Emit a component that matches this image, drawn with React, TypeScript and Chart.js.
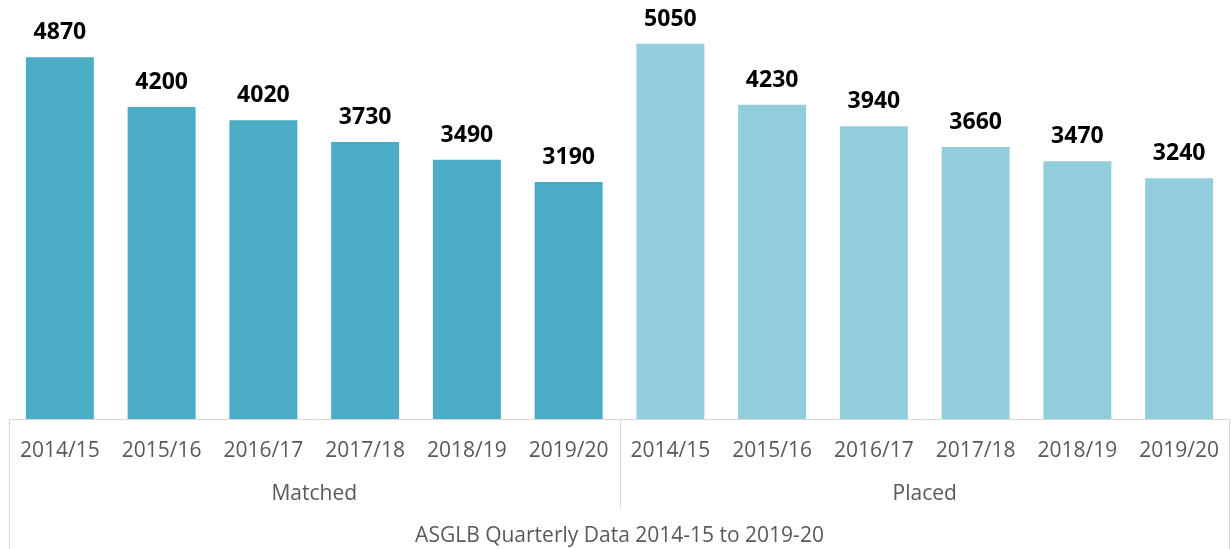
import React, { useEffect, useRef } from "react";
import { Chart, registerables } from "chart.js";

Chart.register(...registerables);

const years = ["2014/15", "2015/16", "2016/17", "2017/18", "2018/19", "2019/20"];
const groups = ["Matched", "Placed"];
const matched = [4870, 4200, 4020, 3730, 3490, 3190];
const placed = [5050, 4230, 3940, 3660, 3470, 3240];
const axisTitle = "ASGLB Quarterly Data 2014-15 to 2019-20";

const categories = [...years, ...years];
const empty = years.map(() => null);

const FONT = "'Open Sans', 'Liberation Sans', sans-serif";
const LINE = "#D9D9D9";

const overlayPlugin = {
  id: "overlay",
  afterDraw(chart: any) {
    const ctx = chart.ctx;
    const x = chart.scales.x;
    const area = chart.chartArea;
    const H = chart.height;
    ctx.save();
    // axis line and group separators
    ctx.strokeStyle = LINE;
    ctx.lineWidth = 1;
    ctx.beginPath();
    const yAxis = Math.round(area.bottom) + 0.5;
    ctx.moveTo(area.left, yAxis);
    ctx.lineTo(area.right, yAxis);
    const leftX = Math.round(area.left) + 0.5;
    const rightX = Math.round(area.right) - 0.5;
    ctx.moveTo(leftX, yAxis);
    ctx.lineTo(leftX, H);
    ctx.moveTo(rightX, yAxis);
    ctx.lineTo(rightX, H);
    const midX = Math.round((x.getPixelForValue(5) + x.getPixelForValue(6)) / 2) + 0.5;
    ctx.moveTo(midX, yAxis);
    ctx.lineTo(midX, yAxis + 88);
    ctx.stroke();

    // group labels
    ctx.fillStyle = "#595959";
    ctx.font = `21px ${FONT}`;
    ctx.textAlign = "center";
    ctx.textBaseline = "alphabetic";
    groups.forEach((g, gi) => {
      const a = x.getPixelForValue(gi * years.length);
      const b = x.getPixelForValue(gi * years.length + years.length - 1);
      ctx.fillText(g, (a + b) / 2, 500);
    });

    // data labels
    ctx.fillStyle = "#000000";
    ctx.font = `bold 23px ${FONT}`;
    chart.data.datasets.forEach((ds: any, di: number) => {
      const meta = chart.getDatasetMeta(di);
      meta.data.forEach((el: any, i: number) => {
        const v = ds.data[i];
        if (v == null) return;
        ctx.fillText(String(v), el.x, el.y - 18);
      });
    });
    ctx.restore();
  },
};

export default function App() {
  const ref = useRef<HTMLCanvasElement | null>(null);

  useEffect(() => {
    document.body.style.margin = "0";
    const chart = new Chart(ref.current as HTMLCanvasElement, {
      type: "bar",
      data: {
        labels: categories,
        datasets: [
          {
            label: groups[0],
            data: [...matched, ...empty],
            backgroundColor: "#4BACC6",
            skipNull: true,
          } as any,
          {
            label: groups[1],
            data: [...empty, ...placed],
            backgroundColor: "#92CDDC",
            skipNull: true,
          } as any,
        ],
      },
      options: {
        animation: false,
        responsive: true,
        maintainAspectRatio: false,
        layout: { padding: { left: 9, right: 1, top: 0, bottom: 0 } },
        datasets: { bar: { categoryPercentage: 1, barPercentage: 0.668 } },
        plugins: {
          legend: { display: false },
          tooltip: { enabled: false },
        },
        scales: {
          y: {
            display: false,
            min: 0,
            max: 5640,
          },
          x: {
            grid: { display: false, drawTicks: false },
            border: { display: false },
            ticks: {
              color: "#595959",
              font: { family: FONT, size: 21 },
              padding: 19,
              maxRotation: 0,
              autoSkip: false,
            },
            title: {
              display: true,
              text: axisTitle,
              color: "#595959",
              font: { family: FONT, size: 21 },
              padding: { top: 0, bottom: 0 },
            },
            afterFit(scale: any) {
              scale.height = 130;
              scale.paddingLeft = 0;
              scale.paddingRight = 0;
            },
          },
        },
      },
      plugins: [overlayPlugin],
    });
    return () => chart.destroy();
  }, []);

  return (
    <div style={{ position: "fixed", left: 0, top: 0, width: 1231, height: 549, background: "#fff" }}>
      <canvas ref={ref} />
    </div>
  );
}
